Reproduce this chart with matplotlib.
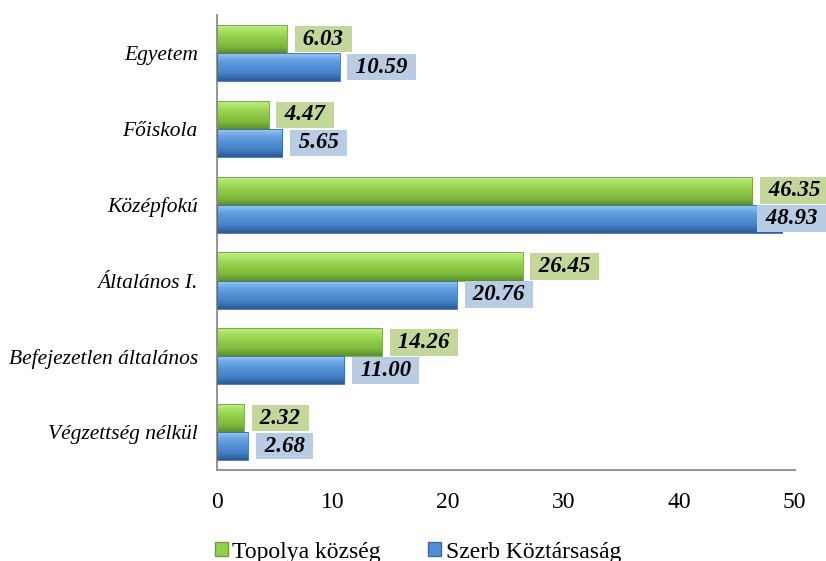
import numpy as np
import matplotlib.pyplot as plt
from matplotlib.colors import LinearSegmentedColormap
from matplotlib.patches import Patch

# data (bottom to top)
categories = ['Végzettség nélkül', 'Befejezetlen általános', 'Általános I.',
              'Középfokú', 'Főiskola', 'Egyetem']
topolya = [2.32, 14.26, 26.45, 46.35, 4.47, 6.03]
szerb = [2.68, 11.00, 20.76, 48.93, 5.65, 10.59]
series_names = ['Topolya község', 'Szerb Köztársaság']

plt.rcParams['font.family'] = ['Liberation Serif', 'DejaVu Serif']

fig = plt.figure(figsize=(8.26, 5.61), dpi=100)
ax = fig.add_axes([0.263, 0.162, 0.699, 0.811])

y = np.arange(len(categories))
h = 0.37
off = 0.185

green_cmap = LinearSegmentedColormap.from_list('g', ['#c6f08a', '#a6de60', '#8fcb48', '#80bb3e', '#5c8f2e'])
blue_cmap = LinearSegmentedColormap.from_list('b', ['#a2ccf6', '#6aa6e4', '#5290d6', '#4580c6', '#2c5a94'])
grad = np.linspace(0, 1, 64).reshape(-1, 1)


def gradient_bars(bars, cmap):
    for b in bars:
        x0, y0 = b.get_x(), b.get_y()
        w, hh = b.get_width(), b.get_height()
        im = ax.imshow(grad, cmap=cmap, aspect='auto', origin='upper',
                       extent=[x0, x0 + w, y0, y0 + hh], zorder=2)
        im.set_clip_path(b)
        b.set_facecolor('none')


g_bars = ax.barh(y + off, topolya, height=h, color='#92d050', edgecolor='#6e9e40',
                 linewidth=0.6, zorder=3)
b_bars = ax.barh(y - off, szerb, height=h, color='#4f8fd6', edgecolor='#3a6aa8',
                 linewidth=0.6, zorder=3)
gradient_bars(g_bars, green_cmap)
gradient_bars(b_bars, blue_cmap)


def value_label(v, yy, fc):
    # the last label would run off the chart, so it is pulled back over the bar
    if v > 47:
        x, ha = 52.5, 'right'
    else:
        x, ha = v + 0.9, 'left'
    ax.text(x, yy, f' {v:.2f} ', ha=ha, va='center', fontsize=16.5,
            fontweight='bold', fontstyle='italic', zorder=5, clip_on=False,
            bbox=dict(boxstyle='square,pad=0.12', fc=fc, ec='none'))


for yi, v in zip(y, topolya):
    value_label(v, yi + off, '#c4d79b')
for yi, v in zip(y, szerb):
    value_label(v, yi - off, '#b8cce4')

ax.set_xlim(0, 50)
ax.set_ylim(-0.5, len(categories) - 0.5)
ax.set_xticks(range(0, 51, 10))
ax.set_yticks(y)
ax.set_yticklabels(categories, fontstyle='italic', fontsize=15.5)
ax.tick_params(axis='x', labelsize=17, length=0, pad=16)
ax.tick_params(axis='y', length=0, pad=14)
for s in ['top', 'right']:
    ax.spines[s].set_visible(False)
for s in ['left', 'bottom']:
    ax.spines[s].set_color('#8c8c8c')
    ax.spines[s].set_linewidth(1.3)

# legend
handles = [Patch(fc='#92d050', ec='#6e9e40'), Patch(fc='#4f8fd6', ec='#3a6aa8')]
fig.legend(handles, series_names, loc='center', bbox_to_anchor=(0.506, 0.016),
           ncol=2, frameon=False, fontsize=17, handlelength=0.55, handleheight=0.55,
           handletextpad=0.2, columnspacing=2.0)

fig.savefig('out.png', dpi=100)
